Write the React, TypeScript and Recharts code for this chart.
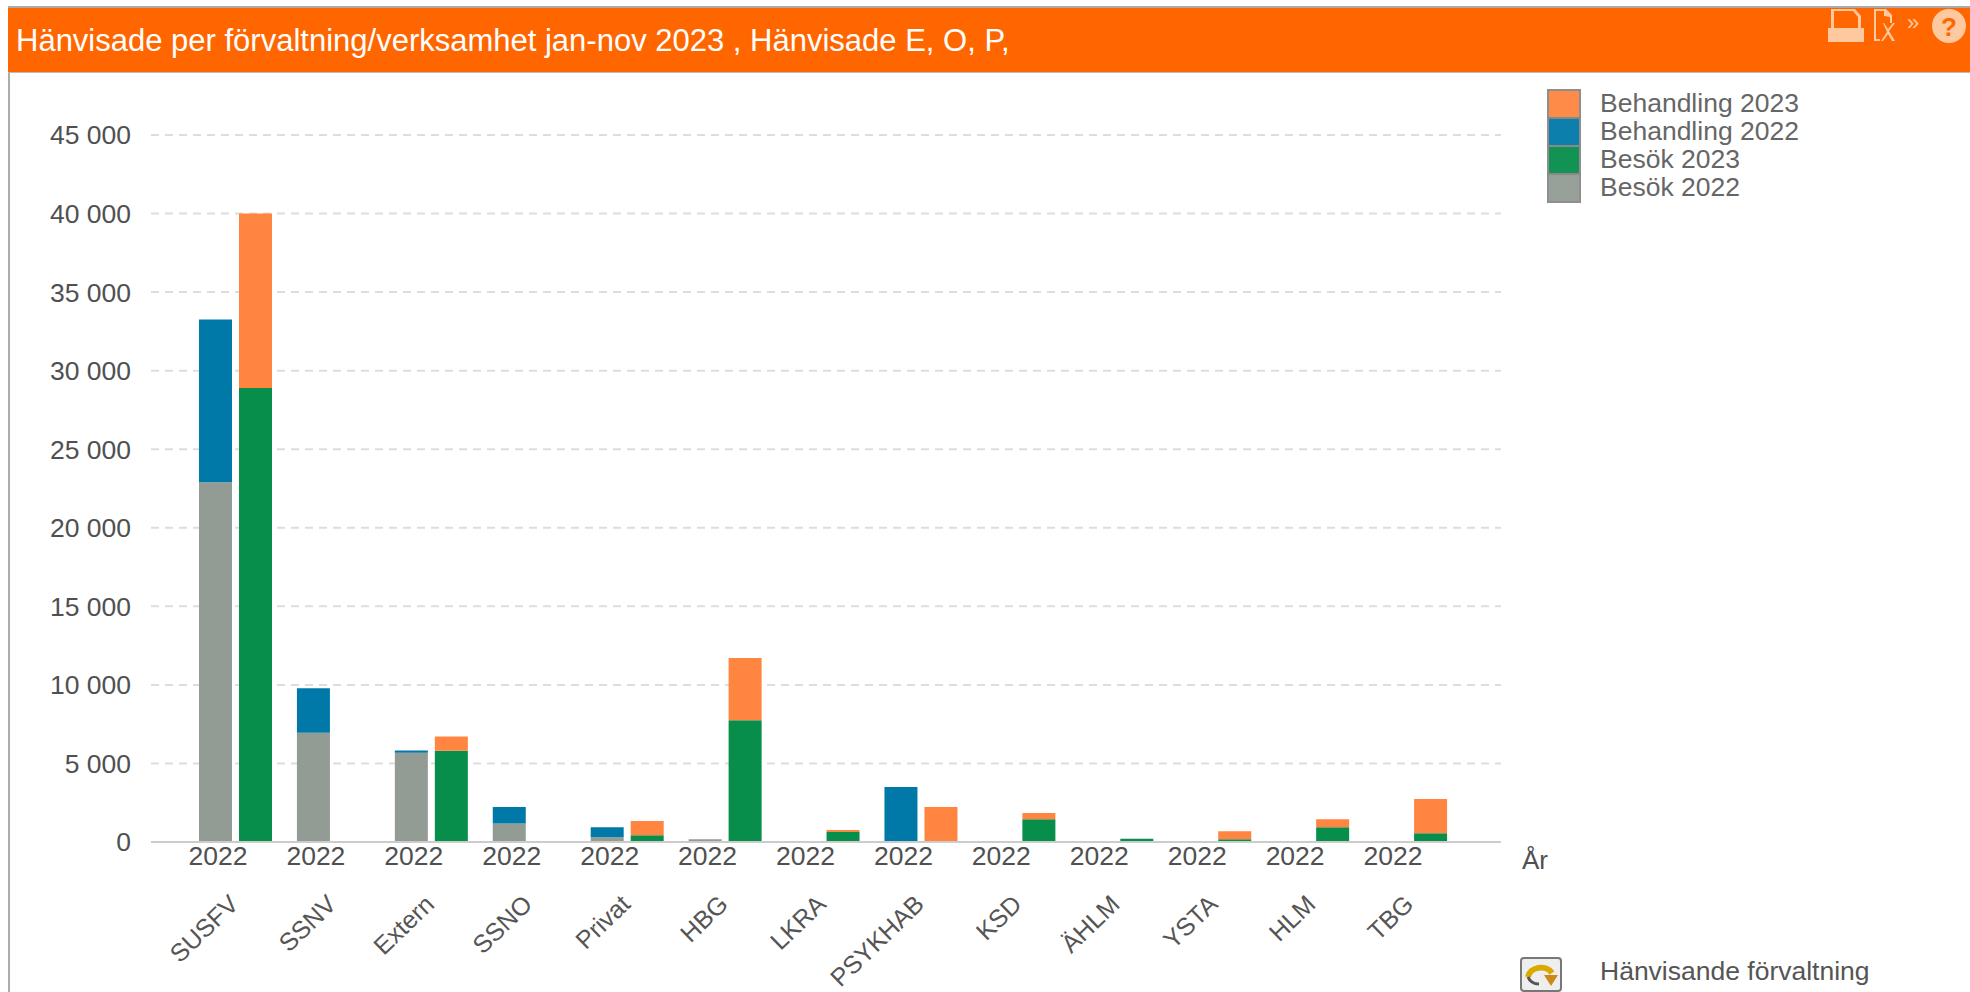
import { Bar, BarChart, CartesianGrid, Legend, XAxis, YAxis } from 'recharts'

const TITLE = 'Hänvisade per förvaltning/verksamhet jan-nov 2023 , Hänvisade E, O, P,'
const FONT = '"Liberation Sans", Arial, sans-serif'
const TEXT = '#555'

const categories = ['SUSFV', 'SSNV', 'Extern', 'SSNO', 'Privat', 'HBG', 'LKRA', 'PSYKHAB', 'KSD', 'ÄHLM', 'YSTA', 'HLM', 'TBG']
const year = '2022'
const besok2022 = [22900, 6960, 5680, 1180, 300, 170, 0, 0, 0, 0, 0, 0, 0]
const behandling2022 = [10350, 2820, 150, 1040, 640, 0, 0, 3500, 0, 0, 0, 0, 0]
const besok2023 = [28900, 0, 5810, 0, 430, 7750, 640, 0, 1450, 200, 170, 940, 555]
const behandling2023 = [11100, 0, 900, 0, 900, 3960, 130, 2220, 390, 0, 510, 510, 2180]
const yTicks = [0, 5000, 10000, 15000, 20000, 25000, 30000, 35000, 40000, 45000]

const legendItems = [
  { name: 'Behandling 2023', color: '#FF8540' },
  { name: 'Behandling 2022', color: '#0079A8' },
  { name: 'Besök 2023', color: '#068E4A' },
  { name: 'Besök 2022', color: '#939B95' },
]

const data = categories.map((name, i) => ({
  name,
  besok2022: besok2022[i],
  behandling2022: behandling2022[i],
  besok2023: besok2023[i],
  behandling2023: behandling2023[i],
}))

function formatTick(v: number) {
  return String(v).replace(/\B(?=(\d{3})+$)/g, ' ')
}

function CategoryTick({ x, y, payload }: any) {
  return (
    <g fontFamily={FONT} fill={TEXT}>
      <text x={x - 18} y={y + 15} fontSize={26.5} textAnchor="middle" fill="#505050">
        {year}
      </text>
      <text x={x + 4} y={y + 56} fontSize={25} textAnchor="end" transform={`rotate(-44 ${x + 4} ${y + 56})`}>
        {payload.value}
      </text>
    </g>
  )
}

function SeriesLegend() {
  return (
    <div style={{ fontFamily: FONT, fontSize: 26.5, color: '#666' }}>
      {legendItems.map((item) => (
        <div key={item.name} style={{ display: 'flex', height: 28, alignItems: 'center' }}>
          <span style={{ width: 30, height: 26, background: item.color, border: '2px solid #888', marginRight: 19, opacity: 0.95 }} />
          <span style={{ marginTop: -2 }}>{item.name}</span>
        </div>
      ))}
    </div>
  )
}

export default function App() {
  return (
    <div style={{ position: 'absolute', left: 0, top: 0, width: 1970, height: 992, overflow: 'hidden', background: '#fff' }}>
      <div style={{ position: 'absolute', left: 8, top: 6, width: 1962, height: 67, boxSizing: 'border-box', background: '#FF6600', borderTop: '2px solid #aaa', borderBottom: '1px solid #bbb' }} />
      <div style={{ position: 'absolute', left: 8, top: 73, width: 2, height: 919, background: '#a8aeaa' }} />
      <div style={{ position: 'absolute', left: 16, top: 23, fontFamily: FONT, fontSize: 31, color: '#fff', whiteSpace: 'nowrap' }}>{TITLE}</div>

      <svg style={{ position: 'absolute', left: 1825, top: 6, width: 145, height: 40 }} fill="#FFC9A0">
        <path d="M6 3h24l6 7v12h3v14H3V22h3z M9 5v17h24v-11l-5-6z" fillRule="evenodd" />
        <path d="M49 3h12l6 6v8h-2v-6l-6-1V5H51v28h4v2h-6z" />
        <path d="M59 17l4 6 5-6h2l-6 8 6 10h-3l-4-7-5 7h-2l6-9-4-9z" />
        <text x="82" y="24" fontFamily={FONT} fontSize={22}>»</text>
        <circle cx="124" cy="20" r="17" />
        <text x="124" y="30" fontFamily={FONT} fontSize={26} fontWeight="bold" textAnchor="middle" fill="#FF6600">?</text>
      </svg>

      <BarChart
        width={1970}
        height={992}
        data={data}
        barSize={33}
        barGap={7}
        margin={{ top: 135, right: 469, bottom: 0, left: 91 }}
        style={{ position: 'absolute', left: 0, top: 0 }}
      >
        <CartesianGrid vertical={false} stroke="#ddd" strokeWidth={2} strokeDasharray="8 6" />
        <XAxis
          dataKey="name"
          interval={0}
          padding={{ left: 36, right: 41 }}
          axisLine={{ stroke: '#ccc', strokeWidth: 2 }}
          tickLine={false}
          tick={<CategoryTick />}
          height={150}
        />
        <YAxis
          domain={[0, 45000]}
          ticks={yTicks}
          tickFormatter={formatTick}
          axisLine={false}
          tickLine={false}
          tickSize={0}
          tickMargin={20}
          width={60}
          tick={{ fontFamily: FONT, fontSize: 26.5, fill: '#505050' }}
        />
        <Bar dataKey="besok2022" stackId="y2022" fill="#939B95" isAnimationActive={false} />
        <Bar dataKey="behandling2022" stackId="y2022" fill="#0079A8" isAnimationActive={false} />
        <Bar dataKey="besok2023" stackId="y2023" fill="#068E4A" isAnimationActive={false} />
        <Bar dataKey="behandling2023" stackId="y2023" fill="#FF8540" isAnimationActive={false} />
        <Legend
          layout="vertical"
          align="center"
          verticalAlign="middle"
          content={<SeriesLegend />}
          wrapperStyle={{ left: 1547, top: 90, width: 320, height: 112 }}
        />
      </BarChart>

      <div style={{ position: 'absolute', left: 1522, top: 845, fontFamily: FONT, fontSize: 26, color: '#505050' }}>År</div>

      <svg style={{ position: 'absolute', left: 1520, top: 957, width: 42, height: 35 }}>
        <rect x="1" y="1" width="40" height="33" rx="3" fill="#eee" stroke="#777" strokeWidth={2} />
        <path d="M8 20a13 11 0 0 1 24-4" fill="none" stroke="#D9A900" strokeWidth={6} />
        <path d="M24 18h14l-7 11z" fill="#C98A1A" />
        <path d="M8 20c2 5 5 7 11 7" fill="none" stroke="#555" strokeWidth={3} />
      </svg>
      <div style={{ position: 'absolute', left: 1600, top: 956, fontFamily: FONT, fontSize: 26.5, color: '#555', whiteSpace: 'nowrap' }}>Hänvisande förvaltning</div>
    </div>
  )
}
